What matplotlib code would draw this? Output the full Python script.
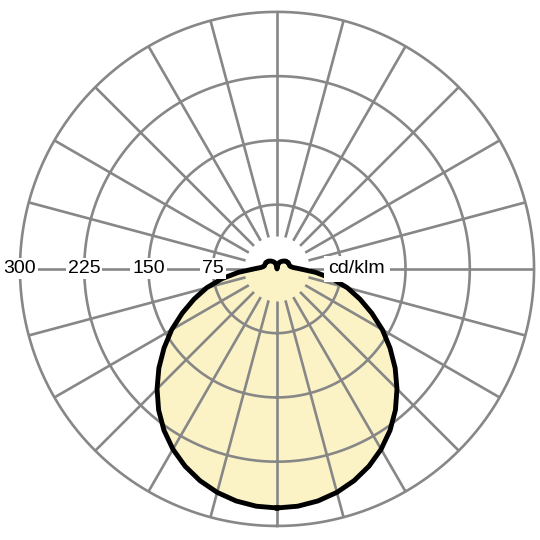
import matplotlib.pyplot as plt
import numpy as np

# Luminous intensity distribution (cd/klm), symmetric about nadir
gamma_deg = [0, 5, 10, 15, 20, 25, 30, 35, 40, 45, 50, 55, 60, 65, 70, 75, 80, 85,
             90, 95, 100, 105, 110, 115, 120, 125, 130, 135, 140, 145, 150, 155,
             160, 165, 170, 175, 180]
intensity = [279, 278, 275, 270, 263, 254, 243, 230, 215, 198, 180, 161, 142, 122,
             103, 85, 65, 45, 27, 19, 16, 15, 15, 15, 15, 14, 14, 13, 12, 11, 10, 9,
             8, 6, 4, 2, 0]

ring_values = [75, 150, 225, 300]
ring_labels = ["75", "150", "225", "300"]
unit_label = "cd/klm"
r_max = 300
r_hole = 38

plt.rcParams['font.family'] = ['Liberation Sans', 'DejaVu Sans']

fig = plt.figure(figsize=(5.4, 5.4), dpi=100)
ax = fig.add_axes([0.037, 0.026, 0.952, 0.952], projection='polar')
ax.set_theta_zero_location('S')
ax.set_theta_direction(1)
ax.set_ylim(0, r_max)
ax.grid(False)
ax.set_xticks([])
ax.set_yticks([])
ax.spines['polar'].set_visible(False)

grid_col = '#878787'
grid_lw = 1.9

# curve: right half (theta = gamma), left half mirrored
g = np.radians(gamma_deg)
I = np.array(intensity, dtype=float)
theta = np.concatenate([g, 2 * np.pi - g[::-1]])
r = np.concatenate([I, I[::-1]])

ax.fill(theta, r, color='#fbf3c5', zorder=1, lw=0)

# rings
t = np.linspace(0, 2 * np.pi, 721)
for rv in ring_values:
    ax.plot(t, np.full_like(t, rv), color=grid_col, lw=grid_lw, zorder=2,
            clip_on=False)

# radial lines every 15 deg, leaving a hole at the centre
for a in np.arange(0, 360, 15):
    ax.plot([np.radians(a)] * 2, [r_hole, r_max], color=grid_col, lw=grid_lw,
            zorder=2, clip_on=False, solid_capstyle='butt')

ax.plot(theta, r, color='black', lw=3.5, zorder=4, solid_joinstyle='round')

# scale labels on the left horizontal
for rv, lab in zip(ring_values, ring_labels):
    ax.text(np.radians(270), rv, lab, ha='center', va='center', fontsize=14,
            zorder=5, bbox=dict(boxstyle='square,pad=0.1', fc='white', ec='none'))

ax.text(np.radians(90), 93, unit_label, ha='center', va='center', fontsize=14,
        zorder=5, bbox=dict(boxstyle='square,pad=0.25', fc='white', ec='none'))

fig.savefig('out.png', dpi=100, facecolor='white')
